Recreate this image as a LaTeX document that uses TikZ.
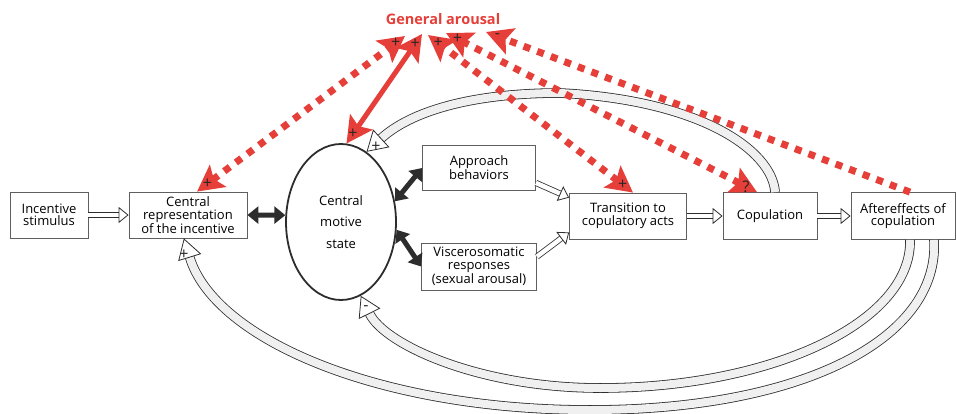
\documentclass[tikz,border=0pt]{standalone}
\usepackage{fontspec}
\setmainfont{Open Sans}
\usetikzlibrary{arrows.meta,shapes.geometric,calc}
\definecolor{ared}{RGB}{230,62,56}
\definecolor{dk}{RGB}{45,45,45}
\definecolor{bx}{RGB}{95,95,95}
\tikzset{rtip/.tip={Stealth[length=26pt,width=27pt,inset=5pt]}}
\begin{document}
\begin{tikzpicture}[x=1pt,y=-1pt,
  font=\fontsize{13}{12.5}\selectfont,
  box/.style={draw=bx, line width=0.8pt, fill=white, align=center, inner sep=0pt},
  blk/.style={draw=dk, line width=5pt, {Triangle[length=11pt,width=17pt]}-{Triangle[length=11pt,width=17pt]}},
  hol/.style={draw=dk, line width=0.8pt, double=white, double distance=4.5pt,
    -{Triangle[open,fill=white,length=10pt,width=16pt,line width=0.8pt]}},
  fb/.style={draw=dk, line width=0.8pt, double=black!6, double distance=8pt,
    -{Triangle[open,fill=white,length=20pt,width=24pt,line width=0.8pt]}},
  rdot/.style={draw=ared, line width=7pt, dash pattern=on 7pt off 7.5pt},
  rsol/.style={draw=ared, line width=5pt},
  lab/.style={text=black!85, font=\fontsize{16}{16}\selectfont, inner sep=0pt}
]
\useasboundingbox (0,0) rectangle (957,414);

% nodes
\node[text=ared, font=\fontsize{14.5}{14.5}\selectfont\bfseries] (ga) at (443,19) {General arousal};
\node[box, minimum width=78pt, minimum height=46pt] (inc) at (49,215) {Incentive\\stimulus};
\node[box, minimum width=118pt, minimum height=46pt] (cr) at (188,215) {Central\\representation\\of the incentive};
\node[draw=dk, line width=1.8pt, ellipse, minimum width=110pt, minimum height=156pt, inner sep=0pt,
  align=center, font=\fontsize{13}{21.5}\selectfont] (cms) at (341,222) {Central\\motive\\state};
\node[box, minimum width=113pt, minimum height=45pt] (app) at (479,168) {Approach\\behaviors};
\node[box, minimum width=115pt, minimum height=47pt] (vis) at (479,266.5) {Viscerosomatic\\responses\\(sexual arousal)};
\node[box, minimum width=117pt, minimum height=46pt] (trn) at (628,216) {Transition to\\copulatory acts};
\node[box, minimum width=94pt, minimum height=47pt] (cop) at (770,216) {Copulation};
\node[box, minimum width=104pt, minimum height=47pt] (aft) at (903,216) {Aftereffects of\\copulation};

\coordinate (g1) at (405,36);
\coordinate (g2) at (422,34);
\coordinate (g3) at (428,35);
\coordinate (g4) at (446,33);
\coordinate (g5) at (486,32);

% forward arrows
\draw[hol] (inc.east) -- (cr.west);
\draw[blk] (cr.east) -- (cms.173);
\draw[blk] (cms.21) -- (app.west);
\draw[blk] (cms.-8) -- (vis.west);
\draw[hol] ($(app.south east)+(0,-8)$) -- ($(trn.north west)+(0,5)$);
\draw[hol] ($(vis.north east)+(0,14)$) -- ($(trn.south west)+(0,-7)$);
\draw[hol] (trn.east) -- (cop.west);
\draw[hol] (cop.east) -- (aft.west);

% feedback arcs
\draw[fb] (cop.78) .. controls (772,150) and (700,100) .. (560,93)
  .. controls (470,93) and (410,112) .. (cms.70);
\draw[fb] ($(aft.south)+(7,0)$) .. controls (912,322) and (772,388) .. (600,388)
  .. controls (480,388) and (385,345) .. (cms.-75);
\draw[fb] ($(aft.south)+(31,0)$) .. controls (940,340) and (800,410) .. (590,410)
  .. controls (380,410) and (215,340) .. (cr.-100);
\node[lab] (l1) at (376,147) {+};
\node[lab] (l2) at (366,308) {-};
\node[lab] (l3) at (184,255) {+};

% arousal arrows
\draw[rdot, rtip-rtip] ($(cr.north)+(9,0)$) -- (g1)
  node[lab, pos=.05] {+} node[lab, pos=.955] {+};
\draw[rsol, rtip-rtip] (cms.86) -- (g2)
  node[lab, pos=.085] {+} node[lab, pos=.91] {+};
\draw[rdot, rtip-rtip] ($(trn.north)+(5,0)$) -- (g3)
  node[lab, pos=.05] {+} node[lab, pos=.95] {+};
\draw[rdot, rtip-rtip] ($(cop.north)+(-13,0)$) -- (g4)
  node[lab, pos=.035] {?} node[lab, pos=.963] {+};
\draw[rdot, -rtip] ($(aft.north)+(7,0)$) -- (g5)
  node[lab, pos=.973] {-};
\end{tikzpicture}
\end{document}
